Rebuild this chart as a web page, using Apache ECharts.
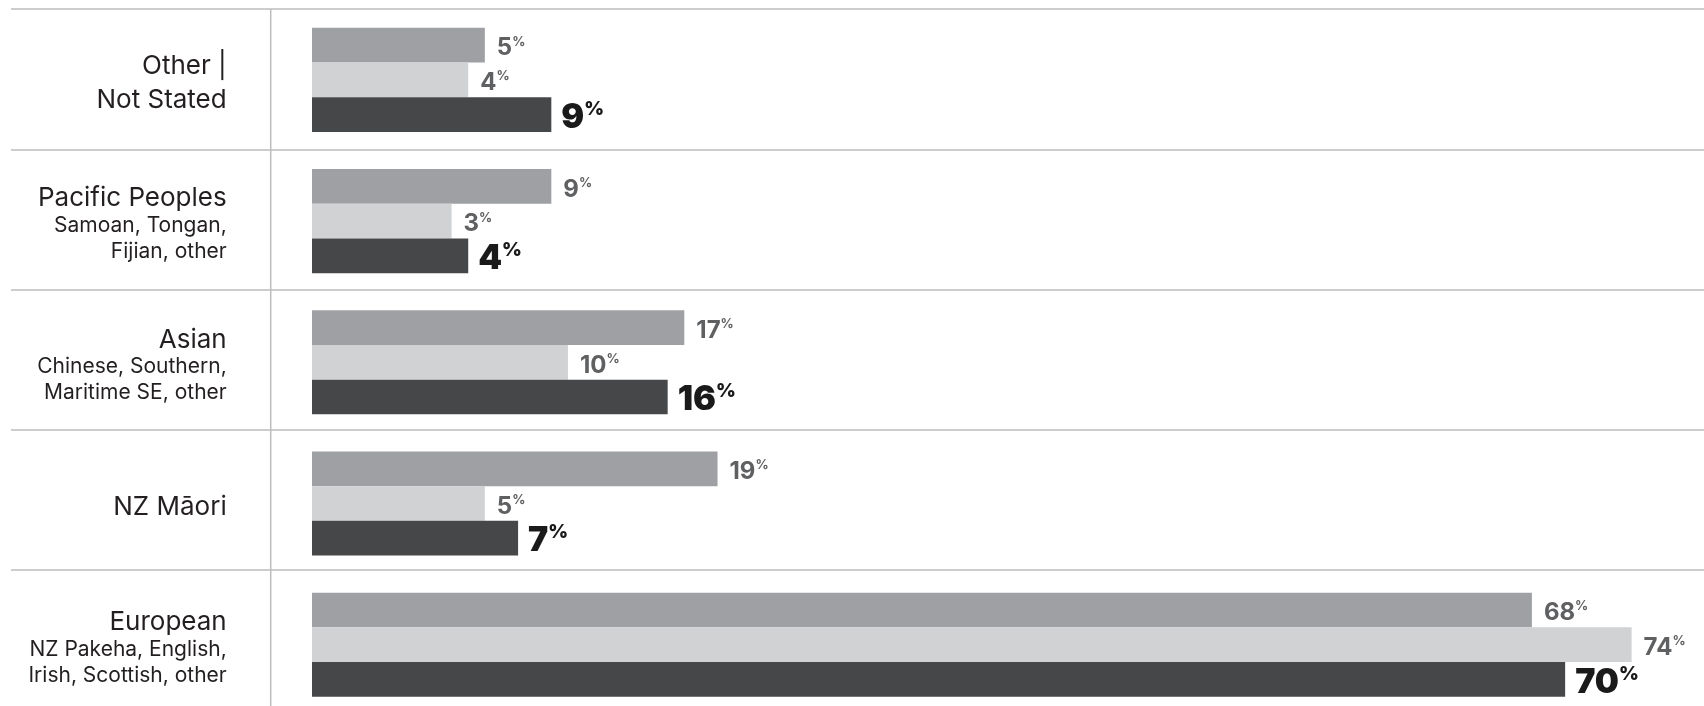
<!DOCTYPE html>
<html>
<head>
<meta charset="utf-8">
<title>Ethnicity shares</title>
<script src="https://cdn.jsdelivr.net/npm/echarts@6/dist/echarts.min.js"></script>
<style>
  html, body { margin: 0; padding: 0; background: #ffffff; }
  #chart { width: 1704px; height: 706px; }
</style>
</head>
<body>
<div id="chart"></div>
<script>
// Groups, top to bottom
const categories = ['Other |\nNot Stated', 'Pacific Peoples', 'Asian', 'NZ Māori', 'European'];
const subtitles = ['', 'Samoan, Tongan,\nFijian, other', 'Chinese, Southern,\nMaritime SE, other', '', 'NZ Pakeha, English,\nIrish, Scottish, other'];

// Percent shares, one array per bar within each group
const sharesTop = [5, 9, 17, 19, 68];
const sharesMiddle = [4, 3, 10, 5, 74];
const sharesBottom = [9, 4, 16, 7, 70];

const FONT = 'Inter, "Noto Sans", sans-serif';
const LINE = '#bcbcbd';
const TEXT = '#231f20';

const chart = echarts.init(document.getElementById('chart'), null, { renderer: 'canvas' });

// Group name in the large style, descriptive lines underneath in the small one
function categoryLabel(value, idx) {
  const titleLines = value.split('\n');
  const tStyle = titleLines.length > 1 ? 'T' : 't';
  const parts = titleLines.map(s => '{' + tStyle + '|' + s + '}');
  const sub = subtitles[idx];
  if (sub) sub.split('\n').forEach(s => parts.push('{s|' + s + '}'));
  return parts.join('\n');
}

function valueLabel(bigSize, smallSize, weight, color, distance) {
  return {
    show: true,
    position: 'right',
    distance: distance,
    offset: [0, 3],
    formatter: p => '{n|' + p.value + '}{p|%}',
    rich: {
      n: { fontFamily: FONT, fontSize: bigSize, fontWeight: weight, color: color, lineHeight: bigSize + 2 },
      p: { fontFamily: FONT, fontSize: smallSize, fontWeight: weight, color: color, lineHeight: smallSize, verticalAlign: 'top' }
    }
  };
}

function barSeries(data, color, label) {
  return {
    type: 'bar',
    xAxisIndex: 1,
    yAxisIndex: 1,
    data: data,
    barWidth: 34.7,
    barGap: '0%',
    itemStyle: { color: color },
    label: label,
    silent: true
  };
}

chart.setOption({
  animation: false,
  backgroundColor: '#ffffff',
  grid: [
    // row rules across the full width
    { left: 11, right: 0, top: 9, height: 701.25, outerBoundsMode: 'none', containLabel: false },
    // bars and group names
    { left: 312, right: 5.9, top: 9.3, height: 706, outerBoundsMode: 'none', containLabel: false }
  ],
  xAxis: [
    { gridIndex: 0, type: 'value', min: 0, max: 1, show: false },
    {
      gridIndex: 1, type: 'value', min: -5.4, max: 78, startValue: -5.4,
      axisLine: { show: false }, axisTick: { show: false },
      axisLabel: { show: false }, splitLine: { show: false }
    }
  ],
  yAxis: [
    {
      gridIndex: 0, type: 'category', data: categories, inverse: true,
      axisLine: { show: false }, axisTick: { show: false }, axisLabel: { show: false },
      splitLine: { show: true, interval: 0, lineStyle: { color: LINE, width: 1.5 } }
    },
    {
      gridIndex: 1, type: 'category', data: categories, inverse: true,
      axisLine: { show: false }, axisTick: { show: false }, splitLine: { show: false },
      axisLabel: {
        interval: 0,
        margin: 85.3,
        align: 'right',
        padding: [7, 0, 0, 0],
        formatter: categoryLabel,
        rich: {
          t: { fontFamily: FONT, fontSize: 26, color: TEXT, lineHeight: 28, align: 'right' },
          T: { fontFamily: FONT, fontSize: 26, color: TEXT, lineHeight: 34, align: 'right' },
          s: { fontFamily: FONT, fontSize: 21, color: TEXT, lineHeight: 26, align: 'right' }
        }
      }
    }
  ],
  series: [
    barSeries(sharesTop, '#9fa0a3', valueLabel(24, 13, 700, '#5f6062', 12)),
    barSeries(sharesMiddle, '#d1d2d4', valueLabel(24, 13, 700, '#5f6062', 12)),
    barSeries(sharesBottom, '#464749', valueLabel(34, 19, 900, '#1a1a1a', 10))
  ],
  graphic: [
    {
      type: 'line',
      silent: true,
      shape: { x1: 270.7, y1: 9, x2: 270.7, y2: 706 },
      style: { stroke: LINE, lineWidth: 1.5 }
    }
  ]
});
</script>
</body>
</html>
